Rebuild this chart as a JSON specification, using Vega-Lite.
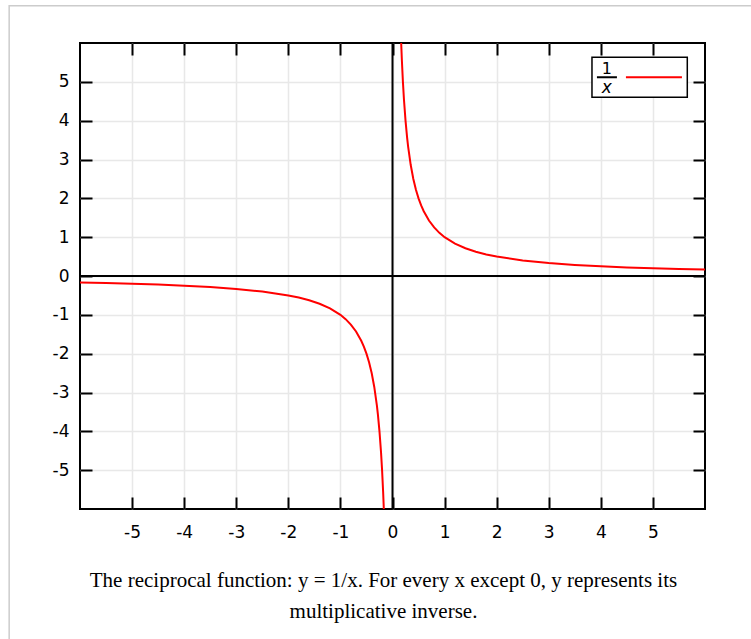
{
  "$schema": "https://vega.github.io/schema/vega-lite/v6.json",
  "width": 625,
  "height": 466,
  "autosize": {"type": "none"},
  "padding": {"left": 80, "top": 43, "right": 46, "bottom": 130},
  "background": "white",
  "config": {
    "view": {"stroke": "#000", "strokeWidth": 2},
    "axis": {
      "domain": false,
      "tickColor": "#000",
      "tickWidth": 2,
      "tickSize": -12,
      "labelFont": "DejaVu Sans",
      "labelFontSize": 17,
      "labelColor": "#000",
      "labelExpr": "'' + datum.value",
      "title": null,
      "gridColor": "#e8e8e8",
      "gridWidth": 1.5
    }
  },
  "title": {
    "text": "The reciprocal function: y = 1/x. For every x except 0, y represents its",
    "subtitle": "multiplicative inverse.",
    "orient": "bottom",
    "anchor": "middle",
    "frame": "group",
    "dx": -9,
    "offset": -76,
    "baseline": "top",
    "font": "Liberation Serif",
    "fontSize": 21,
    "fontWeight": "normal",
    "color": "#000",
    "subtitleFont": "Liberation Serif",
    "subtitleFontSize": 21,
    "subtitleColor": "#000",
    "subtitlePadding": 10
  },
  "datasets": {
    "curve": [
      {"x": -6, "y": -0.167, "branch": "neg"},
      {"x": -5.5, "y": -0.182, "branch": "neg"},
      {"x": -5, "y": -0.2, "branch": "neg"},
      {"x": -4.5, "y": -0.222, "branch": "neg"},
      {"x": -4, "y": -0.25, "branch": "neg"},
      {"x": -3.5, "y": -0.286, "branch": "neg"},
      {"x": -3, "y": -0.333, "branch": "neg"},
      {"x": -2.5, "y": -0.4, "branch": "neg"},
      {"x": -2, "y": -0.5, "branch": "neg"},
      {"x": -1.8, "y": -0.556, "branch": "neg"},
      {"x": -1.6, "y": -0.625, "branch": "neg"},
      {"x": -1.4, "y": -0.714, "branch": "neg"},
      {"x": -1.2, "y": -0.833, "branch": "neg"},
      {"x": -1, "y": -1, "branch": "neg"},
      {"x": -0.9, "y": -1.111, "branch": "neg"},
      {"x": -0.8, "y": -1.25, "branch": "neg"},
      {"x": -0.7, "y": -1.429, "branch": "neg"},
      {"x": -0.6, "y": -1.667, "branch": "neg"},
      {"x": -0.55, "y": -1.818, "branch": "neg"},
      {"x": -0.5, "y": -2, "branch": "neg"},
      {"x": -0.45, "y": -2.222, "branch": "neg"},
      {"x": -0.4, "y": -2.5, "branch": "neg"},
      {"x": -0.35, "y": -2.857, "branch": "neg"},
      {"x": -0.3, "y": -3.333, "branch": "neg"},
      {"x": -0.28, "y": -3.571, "branch": "neg"},
      {"x": -0.25, "y": -4, "branch": "neg"},
      {"x": -0.22, "y": -4.545, "branch": "neg"},
      {"x": -0.2, "y": -5, "branch": "neg"},
      {"x": -0.18, "y": -5.556, "branch": "neg"},
      {"x": -0.1667, "y": -6, "branch": "neg"},
      {"x": 0.1667, "y": 6, "branch": "pos"},
      {"x": 0.18, "y": 5.556, "branch": "pos"},
      {"x": 0.2, "y": 5, "branch": "pos"},
      {"x": 0.22, "y": 4.545, "branch": "pos"},
      {"x": 0.25, "y": 4, "branch": "pos"},
      {"x": 0.28, "y": 3.571, "branch": "pos"},
      {"x": 0.3, "y": 3.333, "branch": "pos"},
      {"x": 0.35, "y": 2.857, "branch": "pos"},
      {"x": 0.4, "y": 2.5, "branch": "pos"},
      {"x": 0.45, "y": 2.222, "branch": "pos"},
      {"x": 0.5, "y": 2, "branch": "pos"},
      {"x": 0.55, "y": 1.818, "branch": "pos"},
      {"x": 0.6, "y": 1.667, "branch": "pos"},
      {"x": 0.7, "y": 1.429, "branch": "pos"},
      {"x": 0.8, "y": 1.25, "branch": "pos"},
      {"x": 0.9, "y": 1.111, "branch": "pos"},
      {"x": 1, "y": 1, "branch": "pos"},
      {"x": 1.2, "y": 0.833, "branch": "pos"},
      {"x": 1.4, "y": 0.714, "branch": "pos"},
      {"x": 1.6, "y": 0.625, "branch": "pos"},
      {"x": 1.8, "y": 0.556, "branch": "pos"},
      {"x": 2, "y": 0.5, "branch": "pos"},
      {"x": 2.5, "y": 0.4, "branch": "pos"},
      {"x": 3, "y": 0.333, "branch": "pos"},
      {"x": 3.5, "y": 0.286, "branch": "pos"},
      {"x": 4, "y": 0.25, "branch": "pos"},
      {"x": 4.5, "y": 0.222, "branch": "pos"},
      {"x": 5, "y": 0.2, "branch": "pos"},
      {"x": 5.5, "y": 0.182, "branch": "pos"},
      {"x": 6, "y": 0.167, "branch": "pos"}
    ],
    "frame": [{"x1": -7.36, "x2": 7.0, "y1": 6.96, "y2": -9.5}],
    "legendbox": [{"x1": 3.83, "x2": 5.66, "y1": 5.63, "y2": 4.6}],
    "legendlines": [
      {"x1": 3.925, "x2": 4.309, "y": 5.118, "kind": "bar"},
      {"x1": 4.482, "x2": 5.557, "y": 5.118, "kind": "sample"}
    ],
    "legendnum": [{"x": 4.116, "y": 5.34, "t": "1"}],
    "legendden": [{"x": 4.116, "y": 4.84, "t": "x"}]
  },
  "resolve": {"axis": {"x": "independent", "y": "independent"}},
  "layer": [
    {
      "data": {"name": "frame"},
      "mark": {"type": "rect", "fill": null, "stroke": "#cccccc", "strokeWidth": 1.5, "clip": false},
      "encoding": {
        "x": {"field": "x1", "type": "quantitative", "scale": {"domain": [-6, 6], "nice": false, "zero": false}, "axis": null},
        "x2": {"field": "x2"},
        "y": {"field": "y1", "type": "quantitative", "scale": {"domain": [-6, 6], "nice": false, "zero": false}, "axis": null},
        "y2": {"field": "y2"}
      }
    },
    {
      "data": {"values": [{"x": 0}]},
      "mark": {"type": "rule", "color": "#000", "strokeWidth": 2},
      "encoding": {
        "x": {"field": "x", "type": "quantitative", "scale": {"domain": [-6, 6], "nice": false, "zero": false},
          "axis": {"orient": "top", "values": [-5, -4, -3, -2, -1, 0, 1, 2, 3, 4, 5], "labels": false, "grid": false}}
      }
    },
    {
      "data": {"values": [{"y": 0}]},
      "mark": {"type": "rule", "color": "#000", "strokeWidth": 2},
      "encoding": {
        "y": {"field": "y", "type": "quantitative", "scale": {"domain": [-6, 6], "nice": false, "zero": false},
          "axis": {"orient": "right", "values": [-5, -4, -3, -2, -1, 0, 1, 2, 3, 4, 5], "labels": false, "grid": false}}
      }
    },
    {
      "data": {"name": "curve"},
      "mark": {"type": "line", "color": "#ff0000", "strokeWidth": 2, "clip": true},
      "encoding": {
        "x": {"field": "x", "type": "quantitative", "scale": {"domain": [-6, 6], "nice": false, "zero": false},
          "axis": {"orient": "bottom", "values": [-5, -4, -3, -2, -1, 0, 1, 2, 3, 4, 5], "grid": true, "labelPadding": 27, "labelBaseline": "top"}},
        "y": {"field": "y", "type": "quantitative", "scale": {"domain": [-6, 6], "nice": false, "zero": false},
          "axis": {"orient": "left", "values": [-5, -4, -3, -2, -1, 0, 1, 2, 3, 4, 5], "grid": true, "labelPadding": 23}},
        "detail": {"field": "branch"},
        "order": {"field": "x", "type": "quantitative"}
      }
    },
    {
      "data": {"name": "legendbox"},
      "mark": {"type": "rect", "fill": "white", "stroke": "#000", "strokeWidth": 1.5},
      "encoding": {
        "x": {"field": "x1", "type": "quantitative", "scale": {"domain": [-6, 6], "nice": false, "zero": false}, "axis": null},
        "x2": {"field": "x2"},
        "y": {"field": "y1", "type": "quantitative", "scale": {"domain": [-6, 6], "nice": false, "zero": false}, "axis": null},
        "y2": {"field": "y2"}
      }
    },
    {
      "data": {"name": "legendlines"},
      "mark": {"type": "rule", "strokeWidth": 2},
      "encoding": {
        "x": {"field": "x1", "type": "quantitative", "scale": {"domain": [-6, 6], "nice": false, "zero": false}, "axis": null},
        "x2": {"field": "x2"},
        "y": {"field": "y", "type": "quantitative", "scale": {"domain": [-6, 6], "nice": false, "zero": false}, "axis": null},
        "color": {"field": "kind", "type": "nominal", "scale": {"domain": ["bar", "sample"], "range": ["#000000", "#ff0000"]}, "legend": null}
      }
    },
    {
      "data": {"name": "legendnum"},
      "mark": {"type": "text", "font": "DejaVu Sans", "fontSize": 16, "color": "#000", "baseline": "middle", "align": "center"},
      "encoding": {
        "x": {"field": "x", "type": "quantitative", "scale": {"domain": [-6, 6], "nice": false, "zero": false}, "axis": null},
        "y": {"field": "y", "type": "quantitative", "scale": {"domain": [-6, 6], "nice": false, "zero": false}, "axis": null},
        "text": {"field": "t"}
      }
    },
    {
      "data": {"name": "legendden"},
      "mark": {"type": "text", "font": "DejaVu Sans", "fontSize": 17, "fontStyle": "italic", "color": "#000", "baseline": "middle", "align": "center"},
      "encoding": {
        "x": {"field": "x", "type": "quantitative", "scale": {"domain": [-6, 6], "nice": false, "zero": false}, "axis": null},
        "y": {"field": "y", "type": "quantitative", "scale": {"domain": [-6, 6], "nice": false, "zero": false}, "axis": null},
        "text": {"field": "t"}
      }
    }
  ]
}
